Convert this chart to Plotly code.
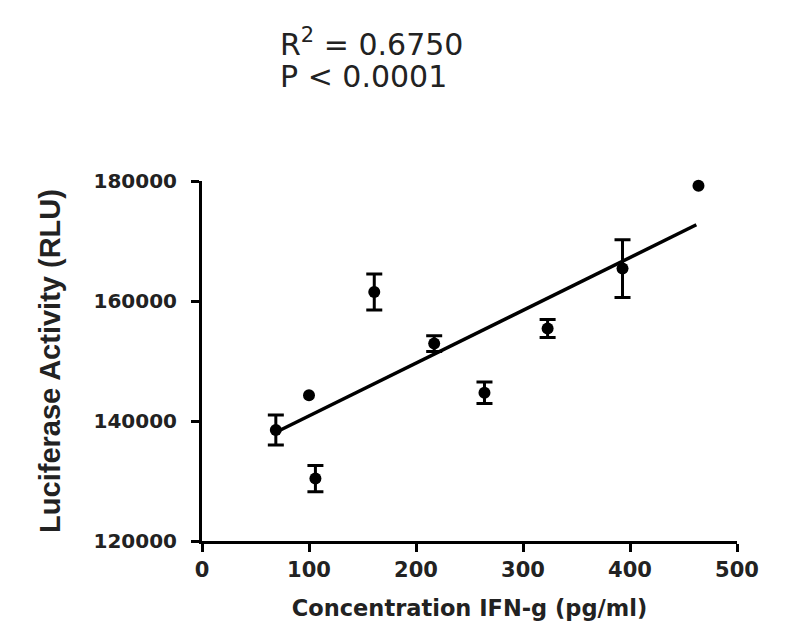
import plotly.graph_objects as go

# Data
conc = [69, 100, 106, 161, 217, 264, 323, 393, 464]
rlu = [138500, 144300, 130400, 161500, 152900, 144700, 155400, 165400, 179200]
err = [2500, None, 2200, 3000, 1300, 1800, 1500, 4800, None]  # None: bar hidden by marker

fit_x = [70, 462]
fit_y = [138200, 172700]

x_ticks = [0, 100, 200, 300, 400, 500]
y_ticks = [120000, 140000, 160000, 180000]

WIDE = "DejaVu Sans, Verdana, sans-serif"
NARROW = "Liberation Sans, Arial, sans-serif"
TXT = "#222"

fig = go.Figure()
fig.add_trace(go.Scatter(
    x=fit_x, y=fit_y, mode="lines",
    line=dict(color="black", width=3.5), showlegend=False, cliponaxis=False))

with_err = [i for i, e in enumerate(err) if e is not None]
no_err = [i for i, e in enumerate(err) if e is None]

fig.add_trace(go.Scatter(
    x=[conc[i] for i in with_err], y=[rlu[i] for i in with_err], mode="markers",
    marker=dict(color="black", size=12),
    error_y=dict(type="data", array=[err[i] for i in with_err], visible=True,
                 color="black", thickness=3, width=8),
    showlegend=False, cliponaxis=False))
fig.add_trace(go.Scatter(
    x=[conc[i] for i in no_err], y=[rlu[i] for i in no_err], mode="markers",
    marker=dict(color="black", size=12),
    showlegend=False, cliponaxis=False))

fig.update_layout(
    width=798, height=643,
    margin=dict(l=202, r=61, t=181, b=102),
    paper_bgcolor="white", plot_bgcolor="white",
    font=dict(family=WIDE, color=TXT),
    xaxis=dict(range=[0, 500], tickvals=x_ticks, showgrid=False, zeroline=False,
               showline=True, linecolor="black", linewidth=3,
               ticks="outside", ticklen=8, tickwidth=3, tickcolor="black",
               tickfont=dict(size=21, family=WIDE, weight="bold", color=TXT),
               title=dict(text="Concentration IFN-g (pg/ml)", standoff=20,
                          font=dict(size=22.5, family=WIDE, weight="bold", color=TXT))),
    yaxis=dict(range=[120000, 180000], tickvals=y_ticks, showgrid=False, zeroline=False,
               showline=True, linecolor="black", linewidth=3,
               ticks="outside", ticklen=8, tickwidth=3, tickcolor="black",
               ticklabelstandoff=10,
               tickformat="d",
               tickfont=dict(size=20, family=WIDE, weight="bold", color=TXT),
               title=dict(text="Luciferase Activity (RLU)", standoff=25,
                          font=dict(size=29, family=NARROW, weight="bold", color=TXT))),
)

fig.add_annotation(xref="paper", yref="paper", x=0.142, y=1.386,
                   xanchor="left", yanchor="middle", showarrow=False,
                   text="R<sup>2</sup> = 0.6750",
                   font=dict(size=30, family=WIDE, color=TXT))
fig.add_annotation(xref="paper", yref="paper", x=0.142, y=1.289,
                   xanchor="left", yanchor="middle", showarrow=False,
                   text="P < 0.0001",
                   font=dict(size=30, family=WIDE, color=TXT))

fig.write_html("out.html")
